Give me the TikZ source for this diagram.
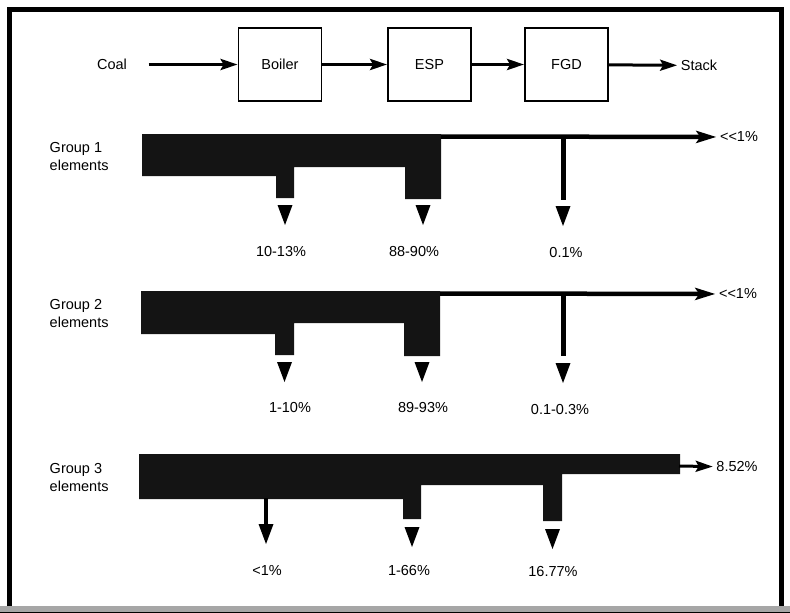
\documentclass[tikz,border=0pt]{standalone}
\usepackage{fontspec}
\setmainfont{Liberation Sans}
\usetikzlibrary{arrows.meta}

\begin{document}
\begin{tikzpicture}[x=1pt, y=-1pt, thick]
\tikzstyle{every node} = [font=\fontsize{14.5}{18}\selectfont]
\tikzstyle{unit} = [draw, line width=1.8pt, minimum width=83pt, minimum height=73pt]
\tikzstyle{flow} = [line width=3pt, -{Stealth[length=17pt, width=11pt, inset=3pt]}]
\tikzstyle{trace} = [line width=4.5pt, -{Stealth[length=20pt, width=12pt, inset=4pt]}]
\tikzstyle{band} = [fill=black!92]
\tikzset{droptip/.pic={\fill (-7.5,0) -- (7.5,0) -- (0,20) -- cycle;}}
\useasboundingbox (0,0) rectangle (790,613);
\draw[line width=5pt] (9,607) -- (9,9.5) -- (781,9.5) -- (781,607);
\fill[gray!70] (0,606) rectangle (790,611.5);
\fill (0,611.5) rectangle (790,613);
\node (coal) at (112,64.5) {Coal};
\node[unit] (boiler) at (280,64.5) {Boiler};
\node[unit] (esp) at (429.5,64.5) {ESP};
\node[unit] (fgd) at (566.5,64.5) {FGD};
\node (stack) at (699,65.5) {Stack};
\draw[flow, shorten <=18pt] (coal) -- (boiler);
\draw[flow] (boiler) -- (esp);
\draw[flow] (esp) -- (fgd);
\draw[flow] (fgd) -- (stack);
\node[align=left, anchor=west] (grp1) at (46,157) {Group 1\\elements};
\node[align=left, anchor=west] (grp2) at (46,313.5) {Group 2\\elements};
\node[align=left, anchor=west] (grp3) at (46,477.5) {Group 3\\elements};
\fill[band] (142,134) -- (441,134) -- (441,199) -- (405,199) -- (405,167) -- (294,167)
  -- (294,198) -- (276,198) -- (276,176) -- (142,176) -- cycle;
\fill[band] (141,291) -- (440,291) -- (440,356) -- (404,356) -- (404,323) -- (294,323)
  -- (294,355) -- (275,355) -- (275,334) -- (141,334) -- cycle;
\fill[band] (139,454) -- (680,454) -- (680,474) -- (562,474) -- (562,521) -- (543,521)
  -- (543,485) -- (421,485) -- (421,519) -- (403,519) -- (403,499) -- (139,499) -- cycle;
\node (out1) at (739,137) {<\kern0pt<\kern0pt1\%};
\node (out2) at (738,294) {<\kern0pt<\kern0pt1\%};
\node (out3) at (737,467) {8.52\%};
\coordinate (end1) at (441,136.5);
\coordinate (end2) at (440,293.5);
\coordinate (end3) at (679,466);
\draw[trace] (end1) -- (out1);
\draw[trace] (end2) -- (out2);
\draw[flow] (end3) -- (out3);
\coordinate (tap1) at (563,137);
\coordinate (tap2) at (563,294);
\coordinate (tap3) at (266,498);
\draw[line width=5pt] (tap1) -- ++(0,63);
\draw[line width=5pt] (tap2) -- ++(0,62);
\draw[line width=4pt] (tap3) -- ++(0,27);
\foreach \x/\y in {285/205, 423/205, 563/206, 284.5/362, 422/362, 563/363, 266/524, 412/527, 552.5/529}
  \pic at (\x,\y) {droptip};
\node (s11) at (281,252) {10-13\%};
\node (s12) at (414,252) {88-90\%};
\node (s13) at (566,253) {0.1\%};
\node (s21) at (290,408) {1-10\%};
\node (s22) at (423,408) {89-93\%};
\node (s23) at (560,410) {0.1-0.3\%};
\node (s31) at (267,571) {<1\%};
\node (s32) at (409,571) {1-66\%};
\node (s33) at (553,572) {16.77\%};
\end{tikzpicture}
\end{document}
